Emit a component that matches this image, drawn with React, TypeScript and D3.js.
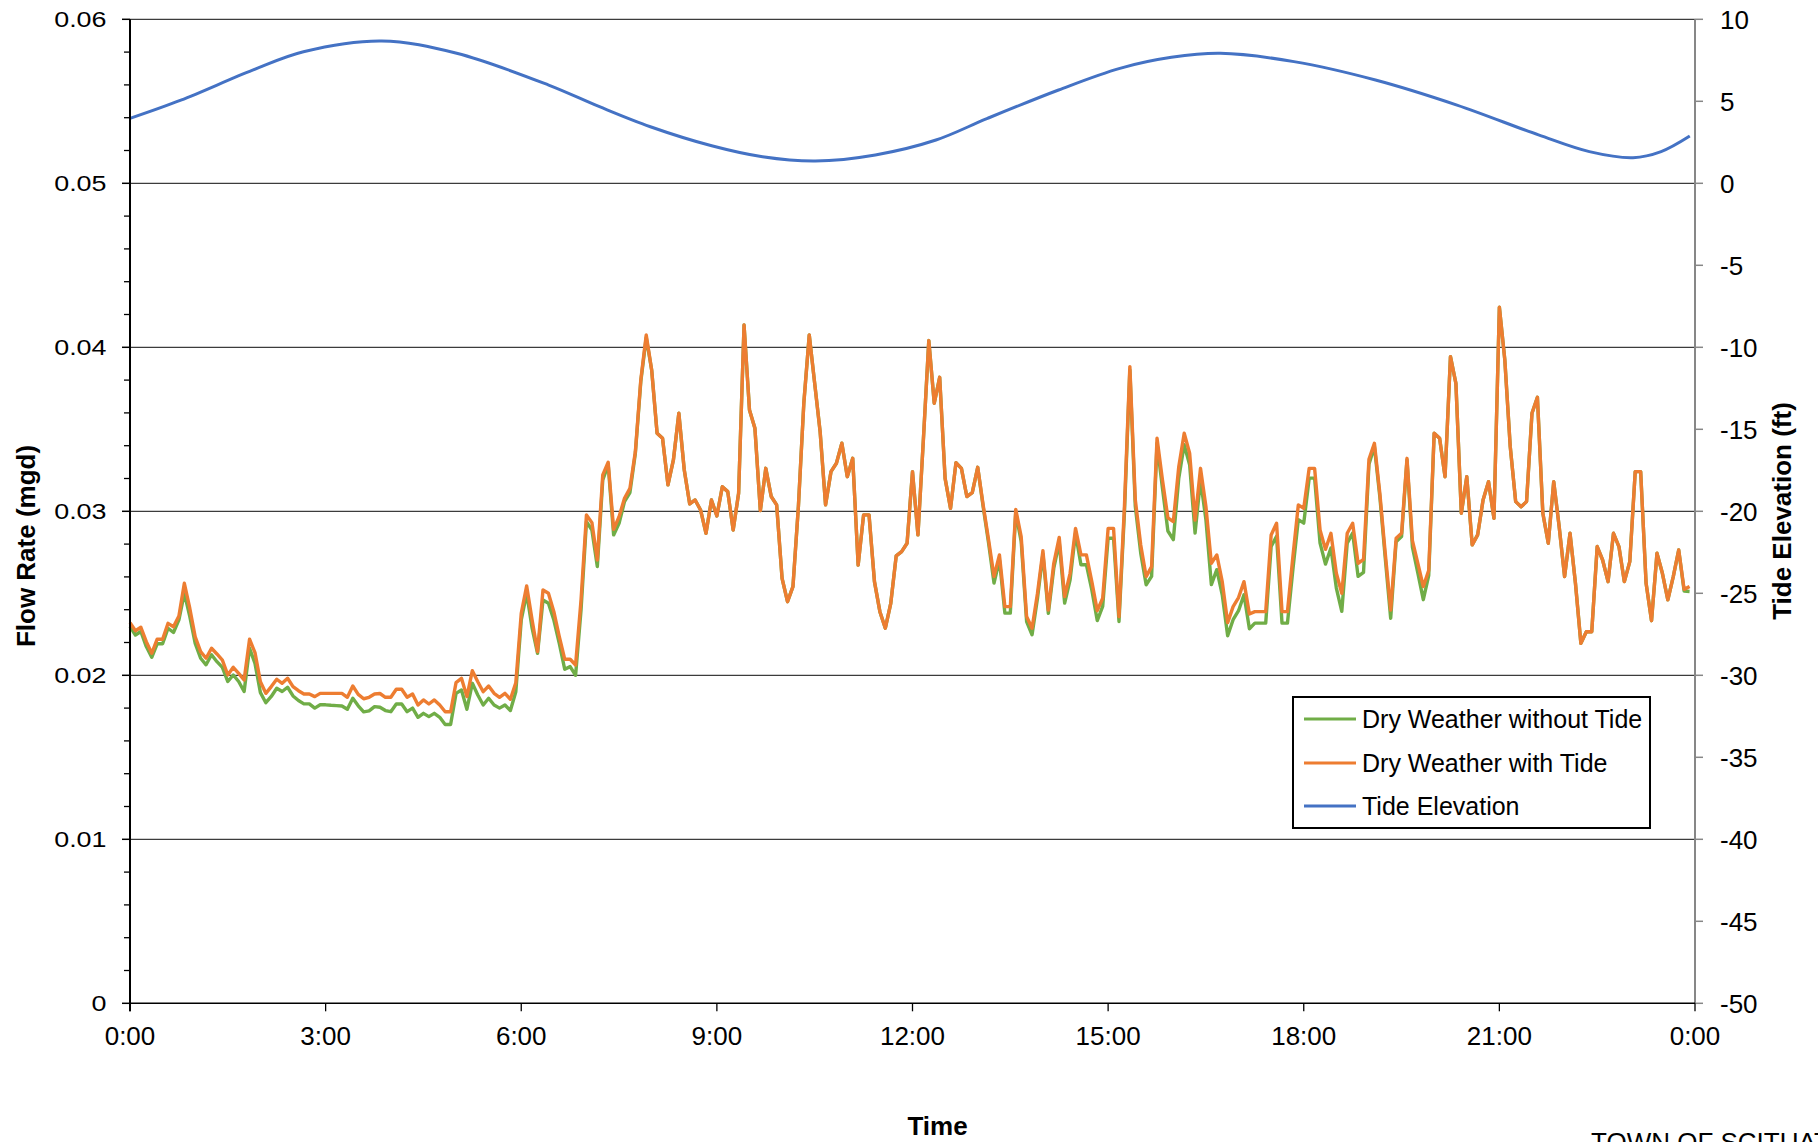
import React from "react";
import * as d3 from "d3";

// 5-minute flow readings (mgd), 0:00 .. 23:55
const flowWithTide: number[] = [
  0.02321, 0.02272, 0.02293, 0.02205, 0.02134, 0.0222, 0.0222, 0.02317, 0.02296, 0.02362, 0.02561, 0.02409,
  0.02235, 0.02144, 0.02104, 0.02165, 0.0213, 0.02093, 0.02002, 0.02049, 0.02012, 0.01971, 0.0222, 0.02138,
  0.01961, 0.0189, 0.01931, 0.01976, 0.01951, 0.01982, 0.01931, 0.01906, 0.01886, 0.01886, 0.0187, 0.0189,
  0.0189, 0.0189, 0.0189, 0.0189, 0.01866, 0.01935, 0.01884, 0.01857, 0.01866, 0.01886, 0.01889, 0.01866,
  0.01866, 0.01915, 0.01915, 0.01866, 0.01886, 0.01819, 0.0185, 0.01825, 0.0185, 0.01819, 0.01778, 0.01778,
  0.01955, 0.01982, 0.0187, 0.02028, 0.01961, 0.019, 0.01935, 0.0189, 0.01866, 0.0189, 0.01854, 0.01955,
  0.02378, 0.02545, 0.02337, 0.02144, 0.0252, 0.025, 0.02388, 0.02236, 0.02098, 0.02098, 0.02063, 0.02459,
  0.02978, 0.02931, 0.02703, 0.03222, 0.03299, 0.0289, 0.02967, 0.03079, 0.0314, 0.03364, 0.03801, 0.04075,
  0.03862, 0.03476, 0.03445, 0.03161, 0.03313, 0.03598, 0.03252, 0.03045, 0.03069, 0.03008, 0.02866, 0.03069,
  0.02972, 0.0315, 0.0312, 0.02886, 0.0311, 0.04136, 0.03618, 0.03506, 0.03004, 0.03262, 0.0309, 0.03039,
  0.02591, 0.02449, 0.02541, 0.03028, 0.03659, 0.04075, 0.0378, 0.03486, 0.03039, 0.03242, 0.03293, 0.03415,
  0.03211, 0.03323, 0.02672, 0.02978, 0.02978, 0.02571, 0.02388, 0.02287, 0.02439, 0.02728, 0.02754, 0.02805,
  0.03242, 0.02856, 0.03435, 0.04041, 0.03659, 0.03817, 0.03201, 0.03018, 0.03297, 0.03262, 0.0309, 0.03114,
  0.03268, 0.03039, 0.02827, 0.02602, 0.02734, 0.02419, 0.02419, 0.03012, 0.02846, 0.02358, 0.02287, 0.025,
  0.0276, 0.02398, 0.02683, 0.02841, 0.0248, 0.02622, 0.02896, 0.02734, 0.02734, 0.02571, 0.02394, 0.0247,
  0.02896, 0.02896, 0.02358, 0.03028, 0.03882, 0.0307, 0.02795, 0.02602, 0.02663, 0.03445, 0.03191, 0.0296,
  0.02937, 0.03272, 0.03476, 0.03354, 0.02947, 0.03262, 0.03028, 0.02683, 0.02734, 0.02571, 0.02321, 0.02419,
  0.02474, 0.02571, 0.02374, 0.02388, 0.02388, 0.02388, 0.02856, 0.02927, 0.02388, 0.02388, 0.02724, 0.03039,
  0.03018, 0.03262, 0.03262, 0.02886, 0.02768, 0.02866, 0.02622, 0.025, 0.02866, 0.02927, 0.02683, 0.02707,
  0.03317, 0.03415, 0.0311, 0.02744, 0.02398, 0.02835, 0.02866, 0.03323, 0.02821, 0.02683, 0.02541, 0.0264,
  0.03476, 0.03445, 0.03211, 0.03943, 0.0378, 0.02988, 0.03211, 0.02795, 0.02856, 0.03069, 0.03181, 0.02957,
  0.04244, 0.03923, 0.03394, 0.03059, 0.03028, 0.03059, 0.03598, 0.03695, 0.02988, 0.02805, 0.03181, 0.02907,
  0.02602, 0.02866, 0.02561, 0.02195, 0.02266, 0.02266, 0.02785, 0.02703, 0.02571, 0.02866, 0.02785, 0.02571,
  0.02693, 0.03242, 0.03242, 0.02561, 0.02333, 0.02744, 0.02622, 0.0246, 0.02602, 0.02764, 0.02524, 0.02541,
];

const flowWithoutTide: number[] = [
  0.02297, 0.02246, 0.02267, 0.02175, 0.0211, 0.02192, 0.02192, 0.02287, 0.02261, 0.02338, 0.02501, 0.02359,
  0.02195, 0.02104, 0.02064, 0.02125, 0.02083, 0.02048, 0.01962, 0.02002, 0.01962, 0.01901, 0.02165, 0.02073,
  0.01894, 0.01833, 0.01871, 0.01921, 0.01901, 0.01927, 0.01874, 0.01846, 0.01826, 0.01826, 0.018, 0.0182,
  0.0182, 0.01817, 0.01815, 0.01813, 0.01793, 0.0186, 0.01814, 0.01777, 0.01783, 0.01809, 0.01805, 0.01785,
  0.01778, 0.01825, 0.01825, 0.01778, 0.018, 0.01744, 0.01768, 0.01748, 0.01768, 0.01744, 0.017, 0.017,
  0.0189, 0.0191, 0.01793, 0.01951, 0.0188, 0.01819, 0.0186, 0.01819, 0.018, 0.01819, 0.01785, 0.019,
  0.02337, 0.025, 0.02287, 0.02134, 0.02459, 0.02439, 0.02337, 0.02195, 0.02037, 0.02053, 0.02, 0.02398,
  0.02937, 0.02886, 0.02663, 0.03191, 0.03283, 0.02856, 0.02927, 0.03059, 0.03114, 0.03354, 0.03791, 0.0406,
  0.03862, 0.03476, 0.03445, 0.03161, 0.03313, 0.03598, 0.03252, 0.03045, 0.03069, 0.03008, 0.02866, 0.03069,
  0.02972, 0.0315, 0.0312, 0.02886, 0.0311, 0.04136, 0.03618, 0.03506, 0.03004, 0.03262, 0.0309, 0.03039,
  0.02591, 0.02449, 0.02541, 0.03028, 0.03659, 0.04075, 0.0378, 0.03486, 0.03039, 0.03242, 0.03293, 0.03415,
  0.03211, 0.03323, 0.02672, 0.02978, 0.02978, 0.02571, 0.02388, 0.02287, 0.02439, 0.02728, 0.02754, 0.02805,
  0.03242, 0.02856, 0.03435, 0.04041, 0.03659, 0.03817, 0.03201, 0.03018, 0.03297, 0.03262, 0.0309, 0.03114,
  0.03268, 0.03029, 0.02807, 0.02562, 0.02704, 0.02379, 0.02379, 0.02992, 0.02816, 0.02328, 0.02247, 0.0247,
  0.0274, 0.02378, 0.02653, 0.02811, 0.0244, 0.02582, 0.02866, 0.02674, 0.02674, 0.02521, 0.02334, 0.0242,
  0.02836, 0.02836, 0.02328, 0.02988, 0.03862, 0.0303, 0.02745, 0.02552, 0.02603, 0.03415, 0.03141, 0.0288,
  0.02827, 0.03202, 0.03406, 0.03284, 0.02867, 0.03192, 0.02948, 0.02553, 0.02644, 0.02491, 0.02241, 0.02339,
  0.02394, 0.02491, 0.02284, 0.02318, 0.02318, 0.02318, 0.02786, 0.02847, 0.02318, 0.02318, 0.02644, 0.02949,
  0.02928, 0.03202, 0.03202, 0.02806, 0.02678, 0.02776, 0.02532, 0.0239, 0.02806, 0.02867, 0.02603, 0.02627,
  0.03287, 0.03395, 0.0309, 0.02714, 0.02348, 0.02815, 0.02846, 0.03313, 0.02781, 0.02623, 0.02461, 0.0261,
  0.03476, 0.03445, 0.03211, 0.03943, 0.0378, 0.02988, 0.03211, 0.02795, 0.02856, 0.03069, 0.03181, 0.02957,
  0.04244, 0.03923, 0.03394, 0.03059, 0.03028, 0.03059, 0.03598, 0.03695, 0.02988, 0.02805, 0.03181, 0.02907,
  0.02602, 0.02866, 0.02561, 0.02195, 0.02266, 0.02266, 0.02785, 0.02703, 0.02571, 0.02866, 0.02785, 0.02571,
  0.02693, 0.03242, 0.03242, 0.02561, 0.02333, 0.02744, 0.02622, 0.0246, 0.02602, 0.02764, 0.02514, 0.02511,
];

const SAMPLE_MINUTES = 5;

// Tide elevation (ft) read at these hours
const tideHours: number[] = [
  0, 0.78, 1.88, 2.66, 3.86, 5.01, 6.42, 7.2, 7.98, 8.92, 9.7, 10.51, 11.43, 12.36,
  13.15, 14.24, 15.18, 15.97, 16.72, 17.85, 19.1, 20.35, 21.6, 22.38, 23.05, 23.48, 23.92,
];
const tideFeet: number[] = [
  3.96, 5.07, 6.9, 8.02, 8.68, 7.93, 5.99, 4.67, 3.45, 2.29, 1.62, 1.36, 1.73, 2.64,
  3.96, 5.69, 7.01, 7.68, 7.93, 7.42, 6.3, 4.77, 2.95, 1.93, 1.56, 1.93, 2.88,
];

const flowTicks: number[] = [0, 0.01, 0.02, 0.03, 0.04, 0.05, 0.06];
const flowTickLabels: string[] = ["0", "0.01", "0.02", "0.03", "0.04", "0.05", "0.06"];
const tideTicks: number[] = [10, 5, 0, -5, -10, -15, -20, -25, -30, -35, -40, -45, -50];
const timeTicks: number[] = [0, 3, 6, 9, 12, 15, 18, 21, 24];
const timeTickLabels: string[] = ["0:00", "3:00", "6:00", "9:00", "12:00", "15:00", "18:00", "21:00", "0:00"];

const seriesNames: string[] = ["Dry Weather without Tide", "Dry Weather with Tide", "Tide Elevation"];
const seriesColors: string[] = ["#70AD47", "#ED7D31", "#4472C4"];

const FONT = "'Liberation Sans', Arial, sans-serif";

export default function App() {
  const W = 1818;
  const H = 1142;
  const left = 130;
  const right = 1695;
  const top = 19.3;
  const bottom = 1003.3;

  const x = d3.scaleLinear().domain([0, 24]).range([left, right]);
  const yFlow = d3.scaleLinear().domain([0, 0.06]).range([bottom, top]);
  const yTide = d3.scaleLinear().domain([-50, 10]).range([bottom, top]);

  const flowLine = d3
    .line<number>()
    .x((_, i) => x((i * SAMPLE_MINUTES) / 60))
    .y((d) => yFlow(d));

  const tidePts = tideHours.map((h, i) => [h, tideFeet[i]] as [number, number]);
  const tideLine = d3
    .line<[number, number]>()
    .x((d) => x(d[0]))
    .y((d) => yTide(d[1]))
    .curve(d3.curveCatmullRom.alpha(0.5));

  const minorTicks = yFlow.ticks(30).filter((t) => !flowTicks.some((m) => Math.abs(m - t) < 1e-9));

  const legendX = 1293;
  const legendY = 697;
  const legendW = 357;
  const legendH = 131;
  const rowYs = [719, 763, 806];

  return (
    <svg
      width={W}
      height={H}
      viewBox={`0 0 ${W} ${H}`}
      style={{ position: "absolute", left: 0, top: 0, display: "block", background: "#fff" }}
      fontFamily={FONT}
    >
      <rect x={0} y={0} width={W} height={H} fill="#fff" />

      {/* gridlines */}
      {flowTicks
        .filter((t) => t > 0)
        .map((t) => (
          <line key={`g${t}`} x1={left} x2={right} y1={yFlow(t)} y2={yFlow(t)} stroke="#3c3c3c" strokeWidth={1.2} />
        ))}

      {/* series */}
      <path d={flowLine(flowWithoutTide) || ""} fill="none" stroke={seriesColors[0]} strokeWidth={3.4} strokeLinejoin="round" />
      <path d={flowLine(flowWithTide) || ""} fill="none" stroke={seriesColors[1]} strokeWidth={3.4} strokeLinejoin="round" />
      <path d={tideLine(tidePts) || ""} fill="none" stroke={seriesColors[2]} strokeWidth={3} strokeLinejoin="round" />

      {/* left axis */}
      <line x1={left} x2={left} y1={top} y2={bottom + 8} stroke="#000" strokeWidth={2} />
      {flowTicks.map((t) => (
        <line key={`lt${t}`} x1={left - 8} x2={left} y1={yFlow(t)} y2={yFlow(t)} stroke="#000" strokeWidth={1.5} />
      ))}
      {minorTicks.map((t) => (
        <line key={`lm${t}`} x1={left - 6} x2={left} y1={yFlow(t)} y2={yFlow(t)} stroke="#000" strokeWidth={1.3} />
      ))}
      {flowTicks.map((t, i) => (
        <text
          key={`ll${t}`}
          transform={`translate(106.5, ${yFlow(t)}) scale(1.25, 1)`}
          textAnchor="end"
          dy="0.36em"
          fontSize={21.5}
          fill="#000"
        >
          {flowTickLabels[i]}
        </text>
      ))}

      {/* right axis */}
      <line x1={right} x2={right} y1={top} y2={bottom} stroke="#878787" strokeWidth={2} />
      {tideTicks.map((t) => (
        <line key={`rt${t}`} x1={right} x2={right + 8} y1={yTide(t)} y2={yTide(t)} stroke="#878787" strokeWidth={1.5} />
      ))}
      {tideTicks.map((t) => (
        <text key={`rl${t}`} x={1720} y={yTide(t)} dy="0.36em" fontSize={26} fill="#000">
          {String(t)}
        </text>
      ))}

      {/* bottom axis */}
      <line x1={left} x2={right} y1={bottom} y2={bottom} stroke="#000" strokeWidth={1.6} />
      {timeTicks.map((h) => (
        <line key={`bt${h}`} x1={x(h)} x2={x(h)} y1={bottom} y2={bottom + 8} stroke="#000" strokeWidth={1.3} />
      ))}
      {timeTicks.map((h, i) => (
        <text key={`bl${h}`} x={x(h)} y={1044.5} textAnchor="middle" fontSize={26} fill="#000">
          {timeTickLabels[i]}
        </text>
      ))}

      {/* axis titles */}
      <text x={937.5} y={1135} textAnchor="middle" fontSize={26} fontWeight="bold" fill="#000">
        Time
      </text>
      <text
        transform="translate(25.5, 546) rotate(-90)"
        textAnchor="middle"
        dy="0.35em"
        fontSize={26}
        fontWeight="bold"
        fill="#000"
      >
        Flow Rate (mgd)
      </text>
      <text
        transform="translate(1782, 511) rotate(-90)"
        textAnchor="middle"
        dy="0.35em"
        fontSize={26}
        fontWeight="bold"
        fill="#000"
      >
        Tide Elevation (ft)
      </text>

      {/* legend */}
      <rect x={legendX} y={legendY} width={legendW} height={legendH} fill="#fff" stroke="#000" strokeWidth={2} />
      {seriesNames.map((name, i) => (
        <g key={name}>
          <line x1={1304} x2={1356} y1={rowYs[i]} y2={rowYs[i]} stroke={seriesColors[i]} strokeWidth={3} />
          <text x={1362} y={rowYs[i]} dy="0.36em" fontSize={25} fill="#000">
            {name}
          </text>
        </g>
      ))}

      {/* footer text (cut off at the page edge, as in the source) */}
      <text x={1591} y={1151} fontSize={26} fill="#000">
        TOWN OF SCITUATE
      </text>
    </svg>
  );
}
